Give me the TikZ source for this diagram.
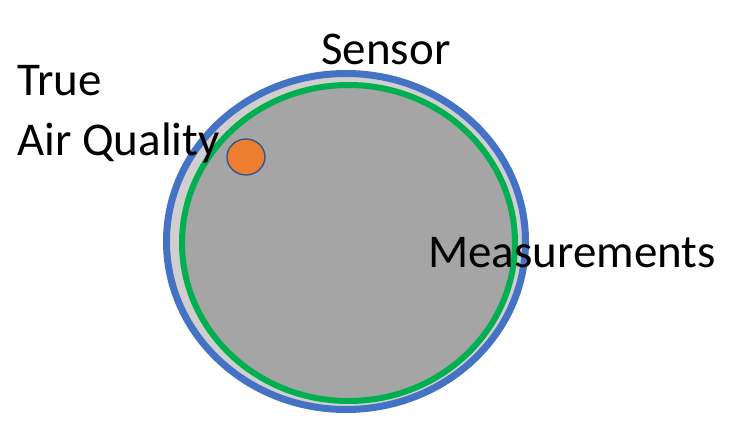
\documentclass[tikz,border=0pt]{standalone}
\usepackage{fontspec}
\setmainfont{Carlito}
\definecolor{ringblue}{HTML}{4472C4}
\definecolor{ringgreen}{HTML}{00B050}
\definecolor{gapgrey}{HTML}{D0CECE}
\definecolor{fillgrey}{HTML}{A5A5A5}
\definecolor{dotorange}{HTML}{ED7D31}
\definecolor{dotedge}{HTML}{2F528F}
\tikzset{
  lbl/.style={anchor=base west, inner sep=0pt, font=\fontsize{47}{56}\selectfont, text=black},
}
\begin{document}
\begin{tikzpicture}[x=1pt,y=-1pt]
\useasboundingbox (0,0) rectangle (740,434);
\fill[white] (0,0) rectangle (740,434);
\draw[ringblue, line width=7pt, fill=gapgrey] (346,241.5) ellipse [x radius=179.5, y radius=168];
\draw[ringgreen, line width=6pt, fill=fillgrey] (348.5,243) ellipse [x radius=166.5, y radius=158];
\draw[dotedge, line width=1.3pt, fill=dotorange] (246,157) ellipse [x radius=19, y radius=18];
\node[lbl] (sensor) at (321,64) {Sensor};
\node[lbl] (true) at (17,95) {True};
\node[lbl] (airq) at (17,155) {Air Quality};
\node[lbl] (meas) at (428,267) {Measurements};
\end{tikzpicture}
\end{document}
